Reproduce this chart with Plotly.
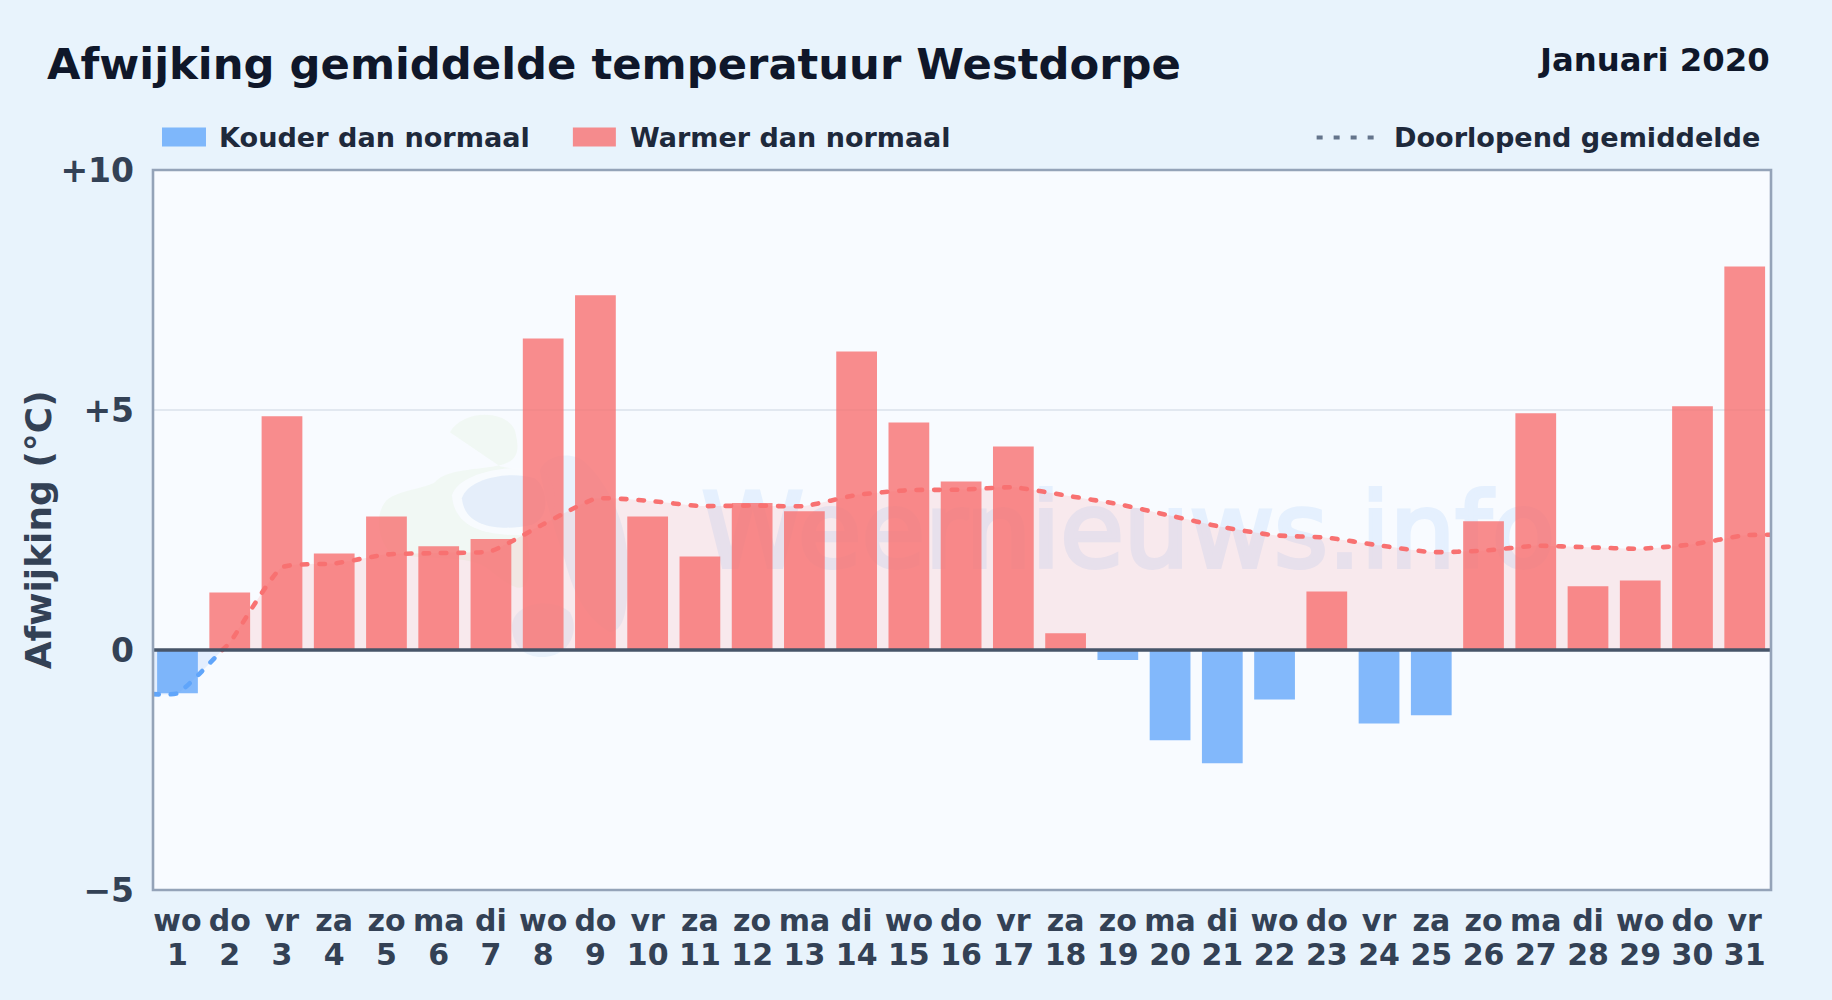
import plotly.graph_objects as go

days = list(range(1, 32))
weekdays = ["wo","do","vr","za","zo","ma","di","wo","do","vr","za","zo","ma","di","wo","do","vr","za","zo","ma","di","wo","do","vr","za","zo","ma","di","wo","do","vr"]
deviation = [-0.90,1.20,4.87,2.01,2.78,2.16,2.31,6.49,7.39,2.78,1.95,3.06,2.89,6.22,4.74,3.51,4.24,0.35,-0.21,-1.88,-2.36,-1.03,1.22,-1.53,-1.36,2.68,4.93,1.33,1.45,5.08,7.99]
running_mean = [-0.90,0.15,1.72,1.80,1.99,2.02,2.06,2.62,3.15,3.11,3.00,3.01,3.00,3.23,3.33,3.34,3.39,3.22,3.04,2.80,2.56,2.39,2.34,2.18,2.04,2.07,2.17,2.14,2.11,2.20,2.39]
mean_left_edge = -0.92
mean_right_edge = 2.40
y_ticks = [-5, 0, 5, 10]
y_labels = ["\u22125", "0", "+5", "+10"]

W, H = 1832, 1000
L, R, T, B = 153.0, 1771.5, 169.5, 890.0
X_RANGE = [0.531, 31.503]
Y_RANGE = [-5, 10]
FONT = "DejaVu Sans"
RED, BLUE = "#f87171", "#60a5fa"
RED_BAR, BLUE_BAR = "rgba(248,113,113,0.8)", "rgba(96,165,250,0.78)"

def px(x): return (x - L) / (R - L)
def py(y): return (B - y) / (B - T)

def path(cmds):
    out = []
    for c in cmds:
        out.append(c[0] + " " + " ".join(
            f"{px(c[i]):.5f},{py(c[i+1]):.5f}" for i in range(1, len(c), 2)))
    return " ".join(out) + " Z"

fig = go.Figure()

# Watermark text, on the lower subplot so bars sit on top of it
fig.add_trace(go.Scatter(x=[19.2], y=[2.27], mode="text", text=["Weernieuws.info"],
    textposition="middle center", xaxis="x2", yaxis="y2", showlegend=False, hoverinfo="skip", opacity=0.12,
    textfont=dict(family=FONT, size=103.5, color="#60a5fa")))

bar_cold = [v if v < 0 else None for v in deviation]
bar_warm = [v if v >= 0 else None for v in deviation]
fig.add_trace(go.Bar(x=days, y=bar_cold, width=0.78, marker=dict(color=BLUE_BAR, line_width=0), showlegend=False))
fig.add_trace(go.Bar(x=days, y=bar_warm, width=0.78, marker=dict(color=RED_BAR, line_width=0), showlegend=False))

# Running mean, split where it crosses zero
xs = [X_RANGE[0]] + days + [X_RANGE[1]]
ys = [mean_left_edge] + running_mean + [mean_right_edge]
k = next(i for i, v in enumerate(ys) if v >= 0)
x0 = xs[k-1] + (0 - ys[k-1]) * (xs[k] - xs[k-1]) / (ys[k] - ys[k-1])
line_common = dict(mode="lines", fill="tozeroy", showlegend=False, hoverinfo="skip")
DASH = "5.5px,12px"
fig.add_trace(go.Scatter(x=xs[:k] + [x0], y=ys[:k] + [0], fillcolor="rgba(96,165,250,0.14)",
    line=dict(color=BLUE, width=4.6, dash=DASH, shape="spline", smoothing=0.5), **line_common))
fig.add_trace(go.Scatter(x=[x0] + xs[k:], y=[0] + ys[k:], fillcolor="rgba(248,113,113,0.13)",
    line=dict(color=RED, width=4.6, dash=DASH, shape="spline", smoothing=0.5), **line_common))

shapes = []
# Faint logo behind the plot
GREEN_L = "rgba(190,225,150,0.10)"
BLUE_L = "rgba(120,170,225,0.15)"
BLUE_L2 = "rgba(120,170,225,0.11)"
shapes.append(dict(type="path", xref="paper", yref="paper", layer="below", line_width=0, fillcolor=GREEN_L,
    path=path([("M",450,432),("C",462,410,505,408,515,430),("C",520,450,520,462,495,466),
               ("C",470,470,445,470,435,482),("C",420,490,395,490,385,502),
               ("C",375,515,378,540,390,552),("C",420,562,470,552,490,570),
               ("C",515,590,530,600,530,560),("L",520,470),("L",500,466)])))
shapes.append(dict(type="path", xref="paper", yref="paper", layer="below", line_width=0, fillcolor="rgba(248,251,255,0.9)",
    path=path([("M",452,495),("C",460,470,520,462,545,472),("C",560,490,560,525,530,535),
               ("C",500,535,455,535,452,495)])))
shapes.append(dict(type="path", xref="paper", yref="paper", layer="below", line_width=0, fillcolor=BLUE_L,
    path=path([("M",462,498),("C",468,478,510,470,535,478),("C",550,490,550,520,530,525),
               ("C",505,530,465,530,462,498)])))
shapes.append(dict(type="path", xref="paper", yref="paper", layer="below", line_width=0, fillcolor=BLUE_L2,
    path=path([("M",540,470),("C",548,452,575,452,585,462),("C",600,475,625,510,628,560),
               ("C",628,600,628,630,610,632),("C",590,620,575,600,565,560),("C",555,530,545,500,540,470)])))
shapes.append(dict(type="path", xref="paper", yref="paper", layer="below", line_width=0, fillcolor=BLUE_L2,
    path=path([("M",512,625),("C",515,600,555,598,570,612),("C",578,625,575,650,550,656),
               ("C",530,660,512,650,512,625)])))

# Zero line and plot border above the bars
shapes.append(dict(type="line", xref="x domain", yref="y", x0=0, x1=1, y0=0, y1=0,
    line=dict(color="#475569", width=3.7), layer="above"))
shapes.append(dict(type="rect", xref="paper", yref="paper", x0=0, x1=1, y0=0, y1=1,
    line=dict(color="#94a3b8", width=2.6), fillcolor="rgba(0,0,0,0)", layer="above"))

# Legend built to the reference's layout
shapes.append(dict(type="rect", xref="paper", yref="paper", x0=px(162), x1=px(206), y0=py(146), y1=py(127),
    fillcolor=BLUE_BAR, line_width=0))
shapes.append(dict(type="rect", xref="paper", yref="paper", x0=px(573), x1=px(616), y0=py(146), y1=py(127),
    fillcolor=RED_BAR, line_width=0))
shapes.append(dict(type="line", xref="paper", yref="paper", x0=px(1317), x1=px(1375), y0=py(137), y1=py(137),
    line=dict(color="#64748b", width=4, dash="6px,11px")))

def label(text, x, y, size, color, xanchor="left"):
    return dict(text=f"<b>{text}</b>", x=px(x), y=py(y), xref="paper", yref="paper", xanchor=xanchor, yanchor="middle",
                showarrow=False, borderpad=0, font=dict(family=FONT, size=size, color=color))

annotations = [
    label("Afwijking gemiddelde temperatuur Westdorpe", 45.5, 63, 43.3, "#0f172a"),
    label("Januari 2020", 1771, 59, 32.3, "#0f172a", "right"),
    label("Kouder dan normaal", 218.5, 137, 27.1, "#1e293b"),
    label("Warmer dan normaal", 629, 137, 27.0, "#1e293b"),
    label("Doorlopend gemiddelde", 1761, 137, 27.1, "#1e293b", "right"),
]
annotations.append(dict(text="<b>Afwijking (\u00b0C)</b>", x=px(38), y=py(530), xref="paper", yref="paper",
    xanchor="center", yanchor="middle", textangle=-90, showarrow=False,
    font=dict(family=FONT, size=36, color="#334155")))

tickfont = dict(family=FONT, size=30, color="#334155")
fig.update_layout(
    width=W, height=H, autosize=False,
    margin=dict(l=L, r=W - R, t=T, b=H - B, pad=0),
    paper_bgcolor="#e8f3fc", plot_bgcolor="#f8fbff",
    barmode="overlay", showlegend=False, shapes=shapes, annotations=annotations,
    font=dict(family=FONT),
    xaxis=dict(overlaying="x2", range=X_RANGE, tickmode="array", tickvals=days,
               ticktext=[f"<b>{d}</b>" for d in weekdays], tickfont=tickfont, ticks="", showgrid=False, zeroline=False,
               showline=False, tickangle=0, ticklabelstandoff=10),
    xaxis2=dict(range=X_RANGE, tickmode="array", tickvals=days, ticktext=[f"<b>{d}</b>" for d in days],
                tickfont=tickfont, ticks="", showgrid=False, zeroline=False, showline=False, tickangle=0, ticklabelstandoff=44),
    yaxis=dict(overlaying="y2", range=Y_RANGE, tickmode="array", tickvals=y_ticks,
               ticktext=[f"<b>{t}</b>" for t in y_labels], tickfont=dict(family=FONT, size=33, color="#334155"), ticks="",
               showgrid=True, gridcolor="#e2e8f0", gridwidth=2, zeroline=False, showline=False, ticklabelstandoff=18),
    yaxis2=dict(range=Y_RANGE, visible=False),
)

post = """
document.body.style.margin='0';
var s=document.createElement('style');
s.textContent='.scatterlayer .js-line{stroke-linecap:round !important}'
 + '.scatterlayer .textpoint text{stroke:#60a5fa;stroke-width:4px}';
document.head.appendChild(s);
"""
fig.write_html("out.html", post_script=post, config={"displayModeBar": False})
